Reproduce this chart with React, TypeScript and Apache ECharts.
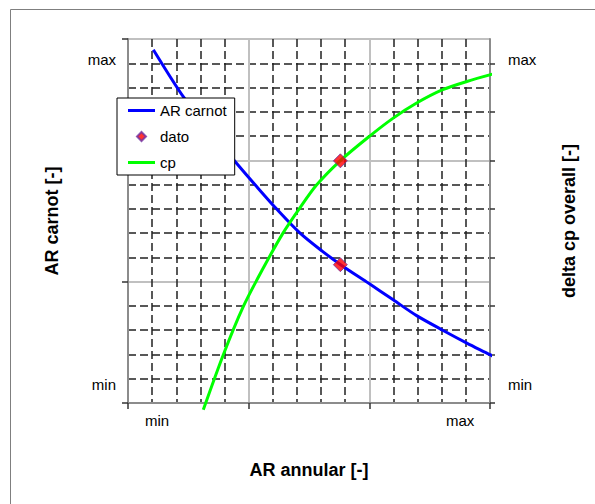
import { useEffect, useRef } from "react";
import * as echarts from "echarts";

// AR carnot curve (left axis), in grid units (0..15 on both axes)
const carnotX = [1.05, 2.32, 3.4, 4.48, 5.33, 6.2, 7.13, 8.06, 8.81, 9.99, 10.99, 11.96, 13.04, 14.04, 15.0, 15.28];
const carnotY = [14.56, 12.58, 11.2, 9.9, 8.92, 7.95, 7.0, 6.25, 5.7, 4.92, 4.25, 3.6, 3.0, 2.47, 1.99, 1.84];

// cp curve (right axis)
const cpX = [3.12, 3.95, 4.78, 5.6, 6.41, 7.13, 7.82, 8.79, 9.99, 10.99, 11.96, 13.04, 14.04, 15.28];
const cpY = [-0.28, 1.99, 3.98, 5.55, 6.98, 8.05, 8.99, 9.98, 10.98, 11.74, 12.36, 12.91, 13.25, 13.6];

// "dato" points
const datoX = [8.8, 8.8];
const datoY = [5.7, 9.98];

// tick labels
const xLabelValues = [1.2, 13.76];
const xLabelTexts = ["min", "max"];
const yLabelValues = [0.75, 14.15];
const yLabelTexts = ["min", "max"];
const rightTickValues = [0, 2, 4, 6, 8, 10, 12, 14];

const FONT = "'Liberation Sans', Arial, sans-serif";
const LINE_ICON = "path://M0,0H27V3H0Z";
const DIAMOND_ICON = "path://M4.5,0L9,4.5L4.5,9L0,4.5Z";

function pick(values: number[], texts: string[], v: number) {
  let best = 0;
  for (let i = 1; i < values.length; i++) {
    if (Math.abs(values[i] - v) < Math.abs(values[best] - v)) best = i;
  }
  return texts[best];
}

export default function App() {
  const ref = useRef<HTMLDivElement>(null);
  useEffect(() => {
    if (!ref.current) return;
    const chart = echarts.init(ref.current, null, { renderer: "svg" });
    const axisLineStyle = { color: "#8c8c8c", width: 2 };
    const tickStyle = { color: "#333", width: 1.5 };
    const splitStyle = { color: "#c0c0c0", width: 2 };
    const minorStyle = { color: "#222", width: 1.5, type: [8, 4] as any };
    const labelStyle = { fontSize: 15, color: "#000", fontFamily: FONT };
    const nameStyle = { fontSize: 18, fontWeight: "bold" as any, color: "#000", fontFamily: FONT };
    chart.setOption({
      animation: false,
      backgroundColor: "#fff",
      textStyle: { fontFamily: FONT },
      graphic: [
        {
          type: "rect",
          silent: true,
          shape: { x: 10.5, y: 9.5, width: 800, height: 800 },
          style: { fill: "none", stroke: "#7f7f7f", lineWidth: 1 },
        },
      ],
      grid: { left: 128, top: 39, width: 362, height: 364, containLabel: false },
      legend: {
        orient: "vertical",
        left: 117,
        top: 98,
        padding: [5, 8, 5, 11],
        itemWidth: 27,
        itemHeight: 9,
        itemGap: 11,
        backgroundColor: "#fff",
        borderColor: "#000",
        borderWidth: 1,
        textStyle: { fontSize: 15, color: "#000", fontFamily: FONT },
        data: [
          { name: "AR carnot", icon: LINE_ICON },
          { name: "dato", icon: DIAMOND_ICON },
          { name: "cp", icon: LINE_ICON },
        ],
      },
      xAxis: {
        type: "value",
        min: 0,
        max: 15,
        interval: 5,
        name: "AR annular [-]",
        nameLocation: "middle",
        nameGap: 58,
        nameTextStyle: nameStyle,
        axisLine: { show: true, lineStyle: axisLineStyle },
        axisTick: { show: true, length: 6, lineStyle: tickStyle },
        axisLabel: {
          ...labelStyle,
          margin: 10,
          customValues: xLabelValues,
          formatter: (v: number) => pick(xLabelValues, xLabelTexts, v),
        },
        splitLine: { show: true, lineStyle: splitStyle },
        minorTick: { show: false, splitNumber: 5 },
        minorSplitLine: { show: true, lineStyle: minorStyle },
      },
      yAxis: [
        {
          type: "value",
          position: "left",
          min: 0,
          max: 15,
          interval: 5,
          name: "AR carnot [-]",
          nameLocation: "middle",
          nameRotate: 90,
          nameGap: 67,
          nameTextStyle: nameStyle,
          axisLine: { show: true, lineStyle: axisLineStyle },
          axisTick: { show: true, length: 6, lineStyle: tickStyle },
          axisLabel: {
            ...labelStyle,
            margin: 12,
            customValues: yLabelValues,
            formatter: (v: number) => pick(yLabelValues, yLabelTexts, v),
          },
          splitLine: { show: true, lineStyle: splitStyle },
          minorTick: { show: false, splitNumber: 5 },
          minorSplitLine: { show: true, lineStyle: minorStyle },
        },
        {
          type: "value",
          position: "right",
          min: 0,
          max: 15,
          interval: 5,
          name: "delta cp overall [-]",
          nameLocation: "middle",
          nameRotate: 90,
          nameGap: 70,
          nameTextStyle: nameStyle,
          axisLine: { show: true, lineStyle: axisLineStyle },
          axisTick: { show: true, length: 5, lineStyle: tickStyle, customValues: rightTickValues },
          axisLabel: {
            ...labelStyle,
            margin: 18,
            customValues: yLabelValues,
            formatter: (v: number) => pick(yLabelValues, yLabelTexts, v),
          },
          splitLine: { show: false },
        },
      ],
      series: [
        {
          name: "AR carnot",
          type: "line",
          yAxisIndex: 0,
          data: carnotX.map((x, i) => [x, carnotY[i]]),
          symbol: "none",
          smooth: 0.3,
          clip: false,
          lineStyle: { color: "#0000ff", width: 3 },
          itemStyle: { color: "#0000ff" },
          z: 3,
        },
        {
          name: "cp",
          type: "line",
          yAxisIndex: 1,
          data: cpX.map((x, i) => [x, cpY[i]]),
          symbol: "none",
          smooth: 0.3,
          clip: false,
          lineStyle: { color: "#00ff00", width: 3 },
          itemStyle: { color: "#00ff00" },
          z: 3,
        },
        {
          name: "dato",
          type: "scatter",
          yAxisIndex: 0,
          data: datoX.map((x, i) => [x, datoY[i]]),
          symbol: "diamond",
          symbolSize: 14,
          clip: false,
          itemStyle: { color: "#ff0000", borderColor: "#7030a0", borderWidth: 1 },
          z: 5,
        },
      ],
    });
    return () => chart.dispose();
  }, []);
  return (
    <div
      ref={ref}
      style={{ position: "absolute", left: 0, top: 0, width: 595, height: 504, background: "#fff" }}
    />
  );
}
